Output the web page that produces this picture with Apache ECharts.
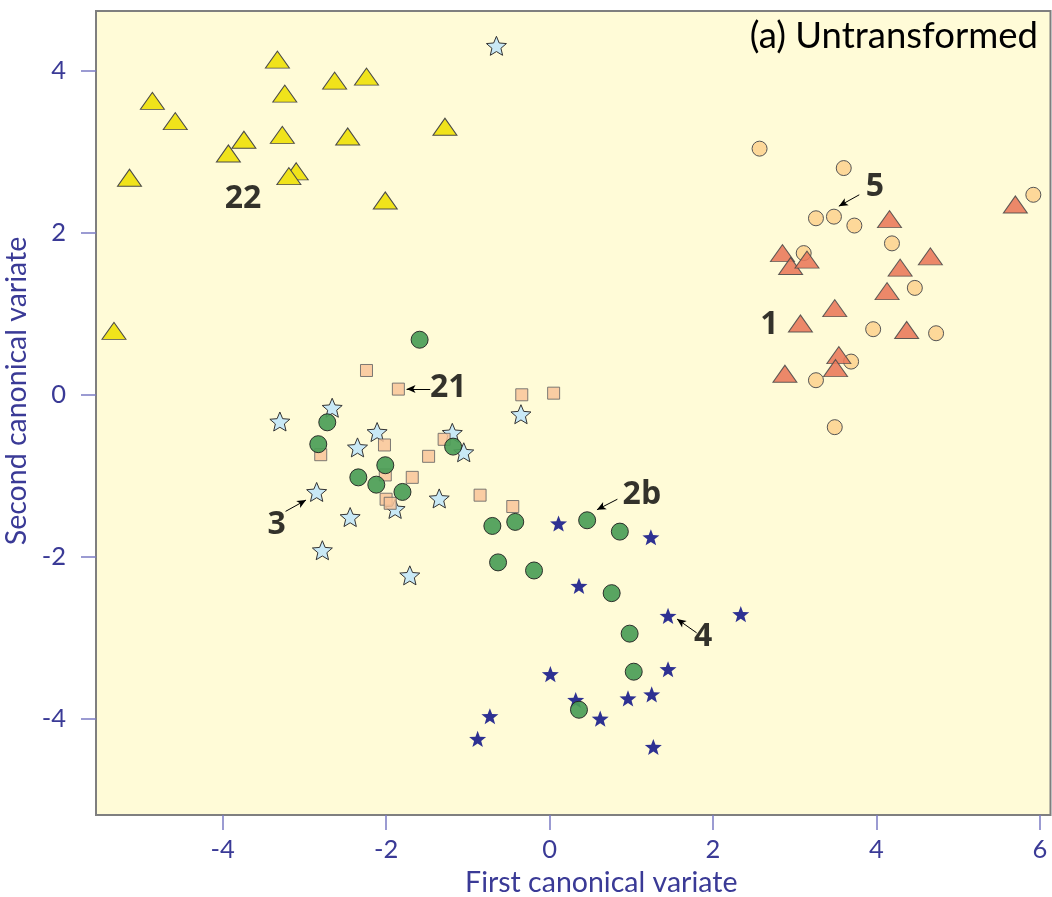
<!DOCTYPE html>
<html>
<head>
<meta charset="utf-8">
<script src="https://cdn.jsdelivr.net/npm/echarts@6/dist/echarts.min.js"></script>
<style>
  html, body { margin: 0; padding: 0; background: #ffffff; }
  #chart { width: 1052px; height: 897px; }
</style>
</head>
<body>
<div id="chart"></div>
<script>
// Canonical variate scores per group: [first, second]
const group22 = [[-3.33,4.14],[-2.63,3.88],[-2.24,3.93],[-3.24,3.72],[-4.86,3.63],[-4.58,3.38],[-3.74,3.15],[-3.27,3.21],[-2.47,3.19],[-1.28,3.31],[-3.93,2.98],[-5.14,2.68],[-3.10,2.76],[-3.19,2.70],[-2.01,2.40],[-5.33,0.79]];
const group1 = [[4.16,2.17],[5.70,2.35],[2.85,1.75],[2.95,1.59],[3.15,1.67],[4.66,1.71],[4.29,1.57],[4.13,1.28],[3.49,1.07],[3.07,0.88],[4.37,0.80],[3.54,0.49],[3.50,0.33],[2.88,0.26]];
const group5 = [[2.57,3.04],[3.60,2.80],[3.26,2.18],[3.48,2.20],[3.73,2.09],[4.19,1.87],[3.11,1.75],[5.92,2.47],[4.47,1.32],[3.96,0.81],[4.73,0.76],[3.69,0.41],[3.26,0.18],[3.49,-0.40]];
const group21 = [[-2.24,0.30],[-1.85,0.07],[-0.34,0.00],[0.05,0.02],[-2.02,-0.62],[-1.29,-0.55],[-2.80,-0.74],[-1.48,-0.76],[-2.01,-0.99],[-1.68,-1.02],[-2.00,-1.29],[-1.95,-1.34],[-0.85,-1.24],[-0.45,-1.38]];
const group3 = [[-0.65,4.31],[-3.30,-0.33],[-2.66,-0.16],[-2.11,-0.46],[-2.35,-0.65],[-1.19,-0.47],[-1.05,-0.71],[-0.35,-0.24],[-2.85,-1.20],[-1.35,-1.28],[-1.89,-1.41],[-2.44,-1.51],[-2.78,-1.92],[-1.71,-2.23]];
const group2b = [[-1.59,0.68],[-2.72,-0.34],[-2.83,-0.61],[-2.01,-0.87],[-1.18,-0.64],[-2.34,-1.02],[-2.12,-1.11],[-1.80,-1.20],[-0.70,-1.62],[-0.42,-1.57],[0.46,-1.55],[0.86,-1.69],[-0.63,-2.07],[-0.19,-2.17],[0.76,-2.45],[0.98,-2.95],[1.03,-3.42],[0.36,-3.89]];
const group4 = [[0.11,-1.59],[1.24,-1.76],[0.36,-2.36],[1.45,-2.73],[2.34,-2.71],[0.01,-3.45],[1.45,-3.39],[0.32,-3.77],[0.96,-3.75],[1.25,-3.70],[0.62,-4.00],[-0.73,-3.97],[-0.88,-4.25],[1.27,-4.35]];

// Group labels and their pointer arrows (from, to)
const groupLabels = [['22',-3.75,2.42],['5',3.98,2.57],['1',2.69,0.86],['21',-1.24,0.08],['3',-3.34,-1.61],['2b',1.13,-1.24],['4',1.88,-2.99]];
const pointerArrows = [[3.79,2.47,3.54,2.33],[-1.46,0.07,-1.75,0.07],[-3.23,-1.44,-2.98,-1.30],[0.83,-1.29,0.58,-1.42],[1.80,-2.94,1.56,-2.77]];

const xTicks = [-4,-2,0,2,4,6];
const yTicks = [-4,-2,0,2,4];

// Five-pointed star outline used as a marker shape
function starSymbol(innerRatio) {
  const pts = [];
  for (let i = 0; i < 10; i++) {
    const r = i % 2 === 0 ? 100 : 100 * innerRatio;
    const a = -Math.PI / 2 + i * Math.PI / 5;
    pts.push((r * Math.cos(a)).toFixed(2) + ' ' + (r * Math.sin(a)).toFixed(2));
  }
  return 'path://M' + pts.join(' L') + ' Z';
}

const axisColor = '#3a3a96';
const tickColor = '#7b7bc4';
const fontFamily = 'Lato, "Open Sans", sans-serif';

const chart = echarts.init(document.getElementById('chart'), null, { renderer: 'canvas' });

function scatter(name, data, symbol, size, fill, stroke, strokeWidth, opacity, z) {
  return {
    name, type: 'scatter', data, symbol, symbolSize: size, symbolKeepAspect: true,
    z,
    itemStyle: { color: fill, borderColor: stroke, borderWidth: strokeWidth, opacity },
    emphasis: { disabled: true },
    silent: true
  };
}

chart.setOption({
  animation: false,
  backgroundColor: '#ffffff',
  title: {
    text: '(a) Untransformed',
    right: 9, top: 13,
    textStyle: { fontFamily, fontSize: 36.5, fontWeight: 'normal', color: '#000000' }
  },
  grid: {
    left: 96, top: 11, right: 1.5, bottom: 82,
    outerBoundsMode: 'none', containLabel: false,
    show: true, backgroundColor: '#fffbd7', borderColor: '#7f7f7f', borderWidth: 2
  },
  xAxis: {
    type: 'value', min: -5.55, max: 6.13,
    splitLine: { show: false },
    axisLine: { show: false, onZero: false },
    axisTick: { show: true, inside: false, length: 15, customValues: xTicks, lineStyle: { color: tickColor, width: 1.5 } },
    axisLabel: { customValues: xTicks, margin: 22, color: axisColor, fontSize: 25.5, fontFamily },
    name: 'First canonical variate', nameLocation: 'middle', nameGap: 52,
    nameTextStyle: { color: axisColor, fontSize: 28.5, fontFamily, padding: [0, 0, 0, 56] }
  },
  yAxis: {
    type: 'value', min: -5.19, max: 4.74,
    splitLine: { show: false },
    axisLine: { show: false, onZero: false },
    axisTick: { show: true, inside: false, length: 15, customValues: yTicks, lineStyle: { color: tickColor, width: 1.5 } },
    axisLabel: { customValues: yTicks, margin: 30, color: axisColor, fontSize: 25.5, fontFamily },
    name: 'Second canonical variate', nameLocation: 'middle', nameGap: 58, nameRotate: 90,
    nameTextStyle: { color: axisColor, fontSize: 28.5, fontFamily, padding: [0, 0, 0, 44] }
  },
  series: [
    scatter('22', group22, 'triangle', [24, 17], '#f0e31b', '#4a4a4a', 1, 1, 2),
    scatter('5', group5, 'circle', 15, '#fdd899', '#555555', 1, 1, 3),
    scatter('1', group1, 'triangle', [24, 17], '#e9785a', '#4a4a4a', 1, 0.88, 4),
    scatter('3', group3, starSymbol(0.45), 20, '#c9e9f6', '#333333', 1, 1, 5),
    scatter('4', group4, starSymbol(0.42), 17, '#2e3192', '#2e3192', 0, 1, 6),
    scatter('21', group21, 'rect', 12, '#f9c49a', '#666666', 1, 0.85, 7),
    scatter('2b', group2b, 'circle', 17, '#4b9d57', '#222222', 1, 0.92, 8),
    {
      name: 'labels', type: 'scatter', z: 10, silent: true,
      data: groupLabels.map(d => ({ name: d[0], value: [d[1], d[2]] })),
      symbolSize: 0,
      label: {
        show: true, position: 'inside', formatter: p => p.name,
        fontFamily: '"Open Sans", Lato, sans-serif', fontWeight: 'bold', fontSize: 32,
        color: '#000000', textBorderWidth: 0, textShadowBlur: 0
      },
      markLine: {
        silent: true, animation: false,
        symbol: ['none', 'arrow'], symbolSize: [6, 9],
        label: { show: false },
        lineStyle: { color: '#000000', width: 1, type: 'solid' },
        data: pointerArrows.map(a => [{ coord: [a[0], a[1]] }, { coord: [a[2], a[3]] }])
      }
    }
  ]
});
</script>
</body>
</html>
